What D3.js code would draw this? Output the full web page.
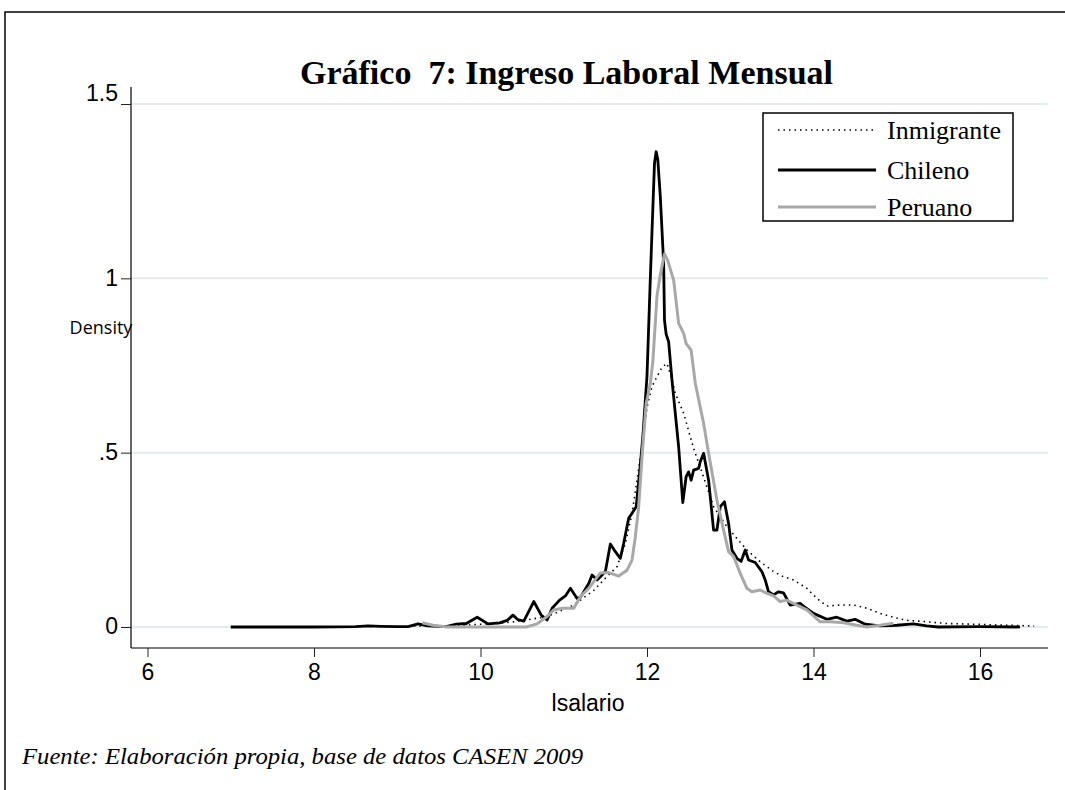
<!DOCTYPE html>
<html>
<head>
<meta charset="utf-8">
<script src="https://cdn.jsdelivr.net/npm/d3@7"></script>
<style>
  html, body { margin: 0; padding: 0; background: #fff; }
  svg { display: block; }
</style>
</head>
<body>
<svg id="chart" width="1065" height="790"></svg>
<script>
// ---------------- DATA ----------------
const titleText = "Gráfico  7: Ingreso Laboral Mensual";
const xLabel = "lsalario";
const yLabel = "Density";
const sourceText = "Fuente: Elaboración propia, base de datos CASEN 2009";
const seriesNames = ["Inmigrante", "Chileno", "Peruano"];
const xTicks = [6, 8, 10, 12, 14, 16];
const yTicks = [0, 0.5, 1, 1.5];
const yTickLabels = ["0", ".5", "1", "1.5"];

const inmigrante = [
  [9.2,0.003],[9.5,0.003],[9.8,0.005],[10.0,0.008],[10.2,0.01],[10.4,0.015],[10.6,0.022],
  [10.8,0.03],[10.95,0.045],[11.12,0.063],[11.2,0.077],[11.36,0.105],[11.52,0.145],
  [11.64,0.173],[11.74,0.24],[11.82,0.326],[11.88,0.421],[11.94,0.517],[12.0,0.63],
  [12.06,0.69],[12.12,0.718],[12.18,0.745],[12.24,0.756],[12.3,0.71],[12.34,0.67],[12.44,0.613],
  [12.56,0.512],[12.68,0.43],[12.8,0.345],[12.96,0.288],[13.08,0.254],[13.2,0.221],
  [13.36,0.187],[13.52,0.159],[13.64,0.144],[13.76,0.135],[13.92,0.111],[14.04,0.082],
  [14.16,0.06],[14.32,0.063],[14.48,0.063],[14.64,0.054],[14.8,0.039],[14.96,0.028],
  [15.12,0.019],[15.36,0.015],[15.6,0.01],[15.92,0.008],[16.32,0.005],[16.65,0.003]
];

const chileno = [
  [7.0,0],[7.5,0],[8.0,0],[8.5,0.001],[8.65,0.003],[8.8,0.002],[9.0,0.001],[9.13,0.001],
  [9.25,0.009],[9.37,0.003],[9.5,0.002],[9.6,0.002],[9.71,0.008],[9.83,0.01],[9.96,0.028],
  [10.09,0.009],[10.23,0.012],[10.32,0.019],[10.39,0.034],[10.45,0.021],[10.52,0.017],
  [10.64,0.073],[10.73,0.034],[10.8,0.02],[10.86,0.054],[10.95,0.077],[11.02,0.089],
  [11.08,0.111],[11.16,0.082],[11.2,0.085],[11.3,0.125],[11.34,0.149],[11.4,0.135],
  [11.44,0.144],[11.5,0.159],[11.56,0.238],[11.62,0.216],[11.68,0.197],[11.72,0.24],
  [11.78,0.312],[11.82,0.326],[11.87,0.345],[11.91,0.441],[11.95,0.545],[12.0,0.72],
  [12.04,1.0],[12.07,1.2],[12.09,1.33],[12.11,1.363],[12.13,1.34],[12.16,1.234],
  [12.2,1.043],[12.21,0.88],[12.23,0.84],[12.26,0.818],[12.3,0.708],[12.38,0.517],
  [12.43,0.357],[12.47,0.431],[12.5,0.445],[12.53,0.421],[12.56,0.45],[12.62,0.455],
  [12.64,0.474],[12.68,0.498],[12.74,0.421],[12.8,0.278],[12.84,0.278],[12.88,0.345],
  [12.93,0.359],[12.98,0.297],[13.02,0.221],[13.08,0.197],[13.13,0.188],[13.18,0.221],
  [13.22,0.192],[13.3,0.185],[13.38,0.159],[13.42,0.135],[13.46,0.101],[13.52,0.092],
  [13.58,0.101],[13.64,0.098],[13.72,0.063],[13.84,0.068],[13.9,0.056],[14.0,0.039],
  [14.16,0.022],[14.28,0.028],[14.4,0.017],[14.5,0.022],[14.62,0.008],[14.8,0.003],
  [15.0,0.005],[15.2,0.009],[15.36,0.003],[15.5,0],[16.0,0.001],[16.48,0]
];

const peruano = [
  [9.3,0.012],[9.43,0.005],[9.6,0.0],[10.0,0],[10.3,0],[10.55,0],[10.68,0.009],[10.8,0.03],
  [10.88,0.049],[10.98,0.054],[11.12,0.054],[11.2,0.087],[11.3,0.111],[11.36,0.13],
  [11.44,0.155],[11.54,0.156],[11.66,0.146],[11.76,0.163],[11.82,0.192],[11.86,0.259],
  [11.9,0.345],[11.94,0.488],[11.99,0.64],[12.04,0.7],[12.07,0.76],[12.12,0.95],
  [12.16,1.01],[12.21,1.07],[12.25,1.05],[12.32,0.995],[12.38,0.871],[12.44,0.842],
  [12.47,0.813],[12.53,0.794],[12.58,0.699],[12.68,0.584],[12.74,0.498],[12.84,0.364],
  [12.92,0.278],[12.98,0.216],[13.04,0.202],[13.12,0.154],[13.2,0.111],[13.26,0.101],
  [13.36,0.106],[13.4,0.101],[13.52,0.089],[13.6,0.073],[13.68,0.077],[13.8,0.063],
  [13.92,0.049],[14.08,0.015],[14.2,0.015],[14.36,0.012],[14.52,0.005],[14.64,0.0],
  [14.8,0.005],[14.96,0.011]
];

// ---------------- DRAW ----------------
const svg = d3.select("#chart");

// outer frame
svg.append("rect")
  .attr("x", 5).attr("y", 12).attr("width", 1080).attr("height", 800)
  .attr("fill", "none").attr("stroke", "#000").attr("stroke-width", 1.5);

const x = d3.scaleLinear().domain([6, 16]).range([147.5, 980]);
const y = d3.scaleLinear().domain([0, 1.5]).range([627, 104]);

const axisLeftX = 131, axisBottomY = 648, plotRight = 1048, plotTop = 87;

// gridlines
svg.append("g").selectAll("line").data(yTicks).join("line")
  .attr("x1", axisLeftX).attr("x2", plotRight)
  .attr("y1", d => y(d)).attr("y2", d => y(d))
  .attr("stroke", "#e2ecef").attr("stroke-width", 2);

// y axis
const yAxis = d3.axisLeft(y).tickValues(yTicks)
  .tickFormat((d, i) => yTickLabels[i]).tickSize(10).tickSizeOuter(0).tickPadding(3);
const gy = svg.append("g").attr("transform", `translate(${axisLeftX},0)`).call(yAxis);
gy.select(".domain").attr("d", `M0,${plotTop}V${axisBottomY}`).attr("stroke", "#000").attr("stroke-width", 1.2);
gy.selectAll(".tick line").attr("stroke", "#222");
gy.selectAll(".tick text")
  .attr("font-family", "'Liberation Sans', Arial, sans-serif")
  .attr("font-size", 23).attr("fill", "#000")
  .attr("dy", (d, i) => i === 3 ? "-0.15em" : "0.3em");

// x axis
const xAxis = d3.axisBottom(x).tickValues(xTicks).tickSize(9).tickSizeOuter(0).tickPadding(7);
const gx = svg.append("g").attr("transform", `translate(0,${axisBottomY})`).call(xAxis);
gx.select(".domain").attr("d", `M${axisLeftX},0H${plotRight}`).attr("stroke", "#000").attr("stroke-width", 1.2);
gx.selectAll(".tick line").attr("stroke", "#222");
gx.selectAll(".tick text")
  .attr("font-family", "'Liberation Sans Narrow', 'Liberation Sans', Arial, sans-serif")
  .attr("font-size", 23).attr("fill", "#000");

// axis titles
svg.append("text").attr("x", 588).attr("y", 711).attr("text-anchor", "middle")
  .attr("font-family", "'Liberation Sans Narrow', 'Liberation Sans', Arial, sans-serif")
  .attr("font-size", 23).text(xLabel);
svg.append("text").attr("x", 101).attr("y", 334).attr("text-anchor", "middle")
  .attr("font-family", "'Open Sans', sans-serif")
  .attr("font-size", 18).text(yLabel);

// title
svg.append("text").attr("x", 300).attr("y", 84)
  .attr("font-family", "'Liberation Serif', 'Times New Roman', serif")
  .attr("font-weight", "bold").attr("font-size", 33)
  .attr("xml:space", "preserve").style("white-space", "pre")
  .attr("textLength", 533).attr("lengthAdjust", "spacingAndGlyphs")
  .text(titleText);

// lines
const line = d3.line().x(d => x(d[0])).y(d => y(d[1]));
const styles = [
  {data: inmigrante, stroke: "#000", width: 1.6, dash: "1.5,4"},
  {data: chileno, stroke: "#000", width: 2.8, dash: null},
  {data: peruano, stroke: "#a8a8a8", width: 3, dash: null}
];
svg.append("g").selectAll("path").data(styles).join("path")
  .attr("d", d => line(d.data))
  .attr("fill", "none")
  .attr("stroke", d => d.stroke)
  .attr("stroke-width", d => d.width)
  .attr("stroke-dasharray", d => d.dash)
  .attr("stroke-linejoin", "round");

// legend
const lg = svg.append("g");
lg.append("rect").attr("x", 763).attr("y", 113).attr("width", 250).attr("height", 108)
  .attr("fill", "#fff").attr("stroke", "#000").attr("stroke-width", 1.5);
const legendY = [130, 170, 207];
styles.forEach((s, i) => {
  lg.append("line").attr("x1", 778).attr("x2", 876)
    .attr("y1", legendY[i]).attr("y2", legendY[i])
    .attr("stroke", s.stroke).attr("stroke-width", s.width)
    .attr("stroke-dasharray", s.dash);
  lg.append("text").attr("x", 887).attr("y", legendY[i] + 9)
    .attr("font-family", "'Liberation Serif', 'Times New Roman', serif")
    .attr("font-size", 26).text(seriesNames[i]);
});

// source
svg.append("text").attr("x", 22).attr("y", 764)
  .attr("font-family", "'Liberation Serif', 'Times New Roman', serif")
  .attr("font-style", "italic").attr("font-size", 24)
  .attr("textLength", 561).attr("lengthAdjust", "spacingAndGlyphs")
  .text(sourceText);
</script>
</body>
</html>
